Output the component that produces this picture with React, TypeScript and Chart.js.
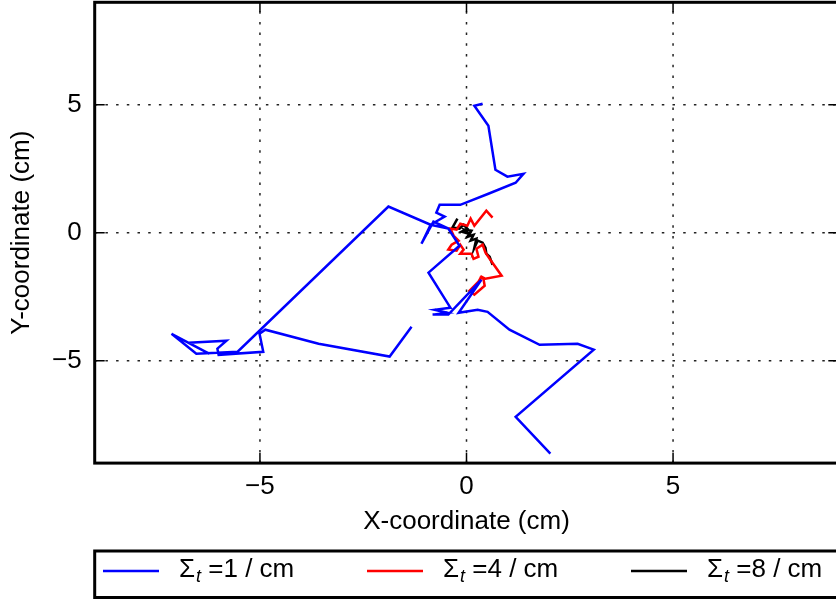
import { useEffect, useRef } from 'react';
import { Chart, registerables } from 'chart.js';

Chart.register(...registerables);

// Random-walk trajectories (cm) for three total cross sections.
// A null entry breaks the blue path into two drawn pieces.
const blueX = [
  2.03, 1.19, 3.08, 2.69, 1.77, 1.04, 0.51, 0.27, -0.19, 0.36, -0.44, -0.82, -0.46, -0.77, -0.39,
  -0.92, -0.17, -0.44, -0.8, -1.09, -0.87, -0.53, -0.73, -0.65, -0.15, 0.53, 1.19, 1.38, 0.99, 0.7,
  0.53, 0.19, 0.39,
  null,
  -1.33, -1.86, -3.58, -4.87, -5.01, -4.92, -6.0, -6.03, -5.81, -6.73, -6.22, -7.14, -6.54, -5.54,
  -1.89, -0.87, -0.44,
];
const blueY = [
  -8.63, -7.19, -4.57, -4.34, -4.38, -3.79, -3.09, -3.01, -3.13, -1.84, -3.2, -3.2, -3.13, -3.01, -2.93,
  -1.56, -0.51, 0.16, 0.43, -0.43, 0.31, 0.63, 0.78, 1.09, 1.09, 1.52, 1.95, 2.3, 2.19, 2.46,
  4.18, 4.96, 5.04,
  null,
  -3.67, -4.84, -4.34, -3.79, -3.95, -4.65, -4.77, -4.53, -4.22, -4.3, -4.73, -3.95, -4.73, -4.65,
  1.02, 0.31, 0.16,
];

const redX = [
  0.63, 0.48, 0.19, 0.1, 0.02, -0.15, -0.24, -0.39, -0.31, -0.19, -0.36, -0.44, -0.24, -0.15, -0.07,
  -0.15, 0.12, 0.17, 0.29, 0.24, 0.39, 0.46, 0.56, 0.85, 0.46, 0.36, 0.29, 0.07, 0.19, 0.44, 0.41, 0.31,
];
const redY = [
  0.59, 0.86, 0.27, 0.55, 0.27, 0.35, 0.12, 0.16, -0.12, -0.31, -0.47, -0.66, -0.7, -0.47, -0.66,
  -0.82, -0.82, -1.02, -0.94, -0.63, -0.47, -0.78, -1.02, -1.68, -1.8, -1.72, -1.91, -2.27, -2.42, -2.07, -1.8, -1.76,
];

const blackX = [
  -0.22, -0.34, -0.17, -0.07, 0.02, -0.12, 0.05, -0.05, 0.12, 0.02, 0.17, 0.1, 0.24, 0.19, 0.27, 0.39,
  0.46, 0.48, 0.56, 0.63,
];
const blackY = [
  0.55, 0.2, 0.16, 0.31, 0.16, 0.04, -0.04, 0.12, 0.08, -0.16, -0.08, -0.31, -0.23, -0.59, -0.31, -0.39,
  -0.59, -0.82, -0.94, -1.25,
];

const tickValues = [-5, 0, 5];
const sigmaValues = ['1', '4', '8'];
const seriesColors = ['#0000ff', '#ff0000', '#000000'];

const FONT = '"Liberation Sans", Arial, Helvetica, sans-serif';
const FONT_SIZE = 26;

const toPoints = (xs: (number | null)[], ys: (number | null)[]) =>
  xs.map((x, i) => ({ x, y: ys[i] }));

const fmt = (v: number) => (v < 0 ? '\u2212' + Math.abs(v) : String(v));

const decorPlugin = {
  id: 'decor',
  beforeDatasetsDraw(chart: any) {
    const { ctx, chartArea: a, scales } = chart;
    ctx.save();
    ctx.strokeStyle = '#222';
    ctx.lineWidth = 1.5;
    ctx.setLineDash([2.5, 8.2]);
    for (const v of tickValues) {
      const px = scales.x.getPixelForValue(v);
      ctx.beginPath();
      ctx.moveTo(px, a.bottom);
      ctx.lineTo(px, a.top);
      ctx.stroke();
      const py = scales.y.getPixelForValue(v);
      ctx.beginPath();
      ctx.moveTo(a.left, py);
      ctx.lineTo(a.right, py);
      ctx.stroke();
    }
    ctx.restore();
  },
  afterDatasetsDraw(chart: any) {
    const { ctx, chartArea: a, scales } = chart;
    ctx.save();
    ctx.strokeStyle = '#000';
    ctx.setLineDash([]);
    // inward tick marks on all four sides
    ctx.lineWidth = 1.5;
    const len = 10;
    for (const v of tickValues) {
      const px = scales.x.getPixelForValue(v);
      const py = scales.y.getPixelForValue(v);
      ctx.beginPath();
      ctx.moveTo(px, a.bottom);
      ctx.lineTo(px, a.bottom - len);
      ctx.moveTo(px, a.top);
      ctx.lineTo(px, a.top + len);
      ctx.moveTo(a.left, py);
      ctx.lineTo(a.left + len, py);
      ctx.moveTo(a.right, py);
      ctx.lineTo(a.right - len, py);
      ctx.stroke();
    }
    // axes frame
    ctx.lineWidth = 3;
    ctx.strokeRect(a.left, a.top, a.right - a.left, a.bottom - a.top);
    ctx.restore();
  },
  afterDraw(chart: any) {
    const { ctx, chartArea: a } = chart;
    ctx.save();
    // legend box below the axes
    const boxTop = 551;
    const boxBottom = 597.5;
    ctx.strokeStyle = '#000';
    ctx.lineWidth = 3;
    ctx.strokeRect(a.left, boxTop, chart.width + 20 - a.left, boxBottom - boxTop);
    const lineStarts = [103, 367, 631];
    const lineLen = 56;
    const lineY = 571;
    const baseY = 577;
    sigmaValues.forEach((val, i) => {
      const x0 = lineStarts[i];
      ctx.strokeStyle = seriesColors[i];
      ctx.lineWidth = 2.5;
      ctx.beginPath();
      ctx.moveTo(x0, lineY);
      ctx.lineTo(x0 + lineLen, lineY);
      ctx.stroke();
      let tx = x0 + lineLen + 20;
      ctx.fillStyle = '#000';
      ctx.textBaseline = 'alphabetic';
      ctx.textAlign = 'left';
      ctx.font = `${FONT_SIZE}px ${FONT}`;
      ctx.fillText('\u03A3', tx, baseY);
      tx += ctx.measureText('\u03A3').width + 1;
      ctx.font = `italic 18px ${FONT}`;
      ctx.fillText('t', tx, baseY + 5);
      tx += ctx.measureText('t').width;
      ctx.font = `${FONT_SIZE}px ${FONT}`;
      ctx.fillText(' =' + val + ' / cm', tx, baseY);
    });
    ctx.restore();
  },
};

export default function App() {
  const canvasRef = useRef<HTMLCanvasElement | null>(null);

  useEffect(() => {
    const canvas = canvasRef.current;
    if (!canvas) return;
    const common = {
      showLine: true,
      pointRadius: 0,
      pointHoverRadius: 0,
      borderWidth: 2.5,
      fill: false,
      tension: 0,
      spanGaps: false,
    };
    const chart = new Chart(canvas, {
      type: 'scatter',
      data: {
        datasets: [
          { ...common, label: '\u03A3t =1 / cm', data: toPoints(blueX, blueY), borderColor: seriesColors[0], backgroundColor: seriesColors[0] },
          { ...common, label: '\u03A3t =4 / cm', data: toPoints(redX, redY), borderColor: seriesColors[1], backgroundColor: seriesColors[1] },
          { ...common, label: '\u03A3t =8 / cm', data: toPoints(blackX, blackY), borderColor: seriesColors[2], backgroundColor: seriesColors[2] },
        ],
      },
      options: {
        responsive: false,
        animation: false,
        devicePixelRatio: 1,
        layout: { padding: { left: 0, top: 2.3, right: 5.7, bottom: 63 } },
        plugins: {
          legend: { display: false },
          tooltip: { enabled: false },
          title: { display: false },
        },
        scales: {
          x: {
            type: 'linear',
            min: -9,
            max: 9,
            afterBuildTicks: (s: any) => {
              s.ticks = tickValues.map((v) => ({ value: v }));
            },
            afterFit: (s: any) => {
              s.height = 73.9;
              s.paddingLeft = 0;
              s.paddingRight = 0;
              s.paddingTop = 0;
              s.paddingBottom = 0;
            },
            grid: { display: false, drawTicks: false },
            border: { display: false },
            ticks: {
              font: { family: FONT, size: FONT_SIZE },
              color: '#000',
              padding: 8,
              maxRotation: 0,
              callback: (v: any) => fmt(Number(v)),
            },
            title: {
              display: true,
              text: 'X-coordinate (cm)',
              color: '#000',
              font: { family: FONT, size: FONT_SIZE },
              padding: { top: 0, bottom: 0 },
            },
          },
          y: {
            type: 'linear',
            min: -9,
            max: 9,
            afterBuildTicks: (s: any) => {
              s.ticks = tickValues.map((v) => ({ value: v }));
            },
            afterFit: (s: any) => {
              s.width = 94.7;
              s.paddingLeft = 0;
              s.paddingRight = 0;
              s.paddingTop = 0;
              s.paddingBottom = 0;
            },
            grid: { display: false, drawTicks: false },
            border: { display: false },
            ticks: {
              font: { family: FONT, size: FONT_SIZE },
              color: '#000',
              padding: 13,
              callback: (v: any) => fmt(Number(v)),
            },
            title: {
              display: true,
              text: 'Y-coordinate (cm)',
              color: '#000',
              font: { family: FONT, size: FONT_SIZE },
              padding: { top: 6, bottom: 0 },
            },
          },
        },
      },
      plugins: [decorPlugin],
    } as any);
    return () => chart.destroy();
  }, []);

  return (
    <div
      style={{
        position: 'fixed',
        left: 0,
        top: 0,
        width: 836,
        height: 600,
        overflow: 'hidden',
        background: '#fff',
      }}
    >
      <canvas ref={canvasRef} width={844} height={600} style={{ display: 'block' }} />
    </div>
  );
}
